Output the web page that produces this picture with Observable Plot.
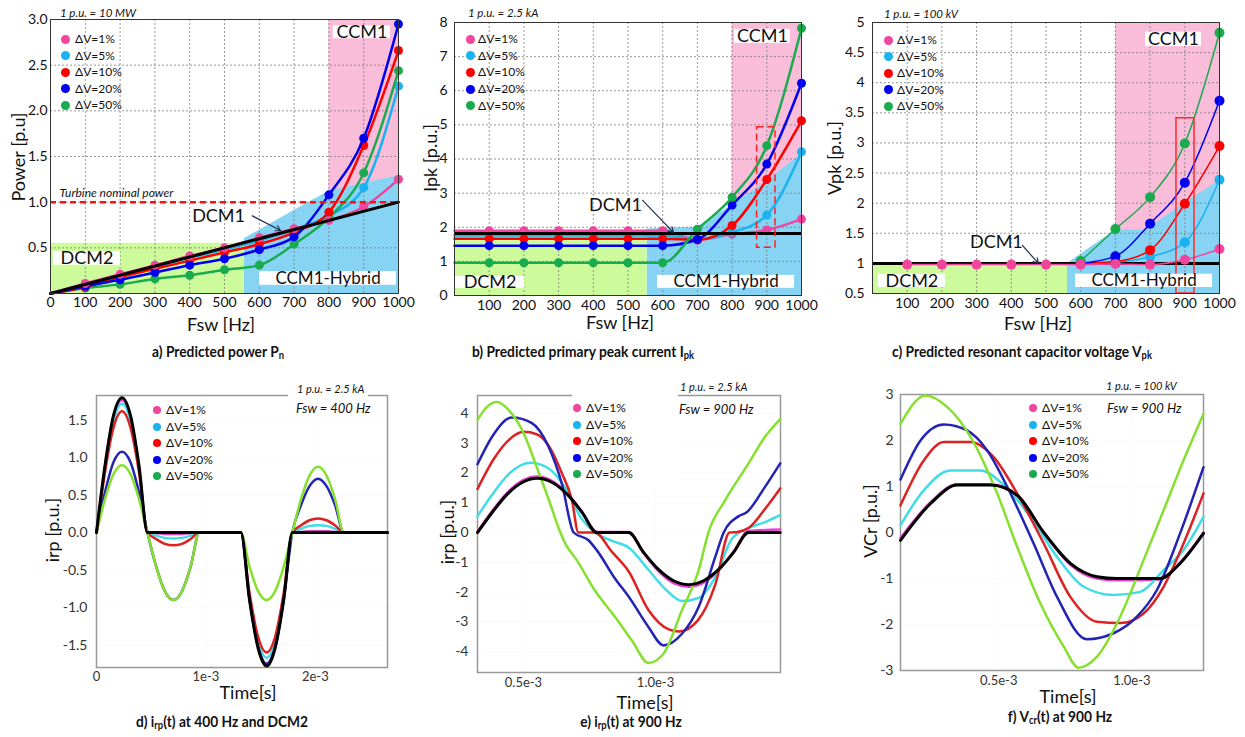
<!DOCTYPE html>
<html><head><meta charset="utf-8">
<script src="https://cdn.jsdelivr.net/npm/d3@7"></script>
<script src="https://cdn.jsdelivr.net/npm/@observablehq/plot@0.6"></script>
<style>
body{margin:0;background:#fff;font-family:Lato,"Open Sans",sans-serif;}
#root{position:relative;width:1245px;height:737px;overflow:hidden;background:#fff;}
.t{position:absolute;white-space:nowrap;color:#111;line-height:1;}
.cx{transform:translate(-50%,-50%);}
.lc{transform:translate(0,-50%);}
.rot{transform:translate(-50%,-50%) rotate(-90deg);}
.ax{font-size:18px;}
.cap{font-weight:bold;font-size:16px;transform:translate(-50%,-50%) scaleX(0.86);}
.sb{font-size:0.68em;vertical-align:-0.12em;}
.it{font-style:italic;}
</style>
</head><body><div id="root"></div>
<script>
// ---------------- data ----------------
const fsw = [100,200,300,400,500,600,700,800,900,1000];
const dvLabels = ["ΔV=1%","ΔV=5%","ΔV=10%","ΔV=20%","ΔV=50%"];
const dotColors = ["#f0459d","#1ab2ef","#ff0000","#0000f0","#1aab4e"];
const waveColors = ["#e840d4","#40dde6","#dc2222","#2424b4","#86e02e"];

// a) predicted power [p.u.]
const powerDv1  = [0.11,0.21,0.31,0.41,0.50,0.61,0.71,0.80,0.95,1.25];
const powerDv5  = [0.10,0.20,0.29,0.39,0.48,0.58,0.70,0.85,1.16,2.27];
const powerDv10 = [0.07,0.18,0.27,0.36,0.45,0.54,0.67,0.89,1.62,2.66];
const powerDv20 = [0.08,0.15,0.23,0.31,0.38,0.48,0.62,1.08,1.70,2.95];
const powerDv50 = [0.06,0.10,0.16,0.20,0.26,0.31,0.54,0.83,1.32,2.44];
const powerDcm1 = [[0,0],[1000,1.0]];
const turbineNominal = 1.0;
const ccm1A = [800,1000], dcm2A = [0,557,0.55];
const hybridTopA = [[557,0.6],[700,0.91],[800,1.12],[1000,1.29]];

// b) primary peak current [p.u.]
const ipkDv1  = [1.90,1.90,1.90,1.90,1.90,1.90,1.63,1.80,1.92,2.24];
const ipkDv5  = [1.76,1.76,1.76,1.76,1.76,1.76,1.65,1.85,2.36,4.21];
const ipkDv10 = [1.66,1.66,1.66,1.66,1.66,1.66,1.63,2.05,3.40,5.12];
const ipkDv20 = [1.46,1.46,1.46,1.46,1.46,1.46,1.64,2.65,3.85,6.22];
const ipkDv50 = [0.96,0.96,0.96,0.96,0.96,0.96,1.94,2.88,4.39,7.83];
const ipkDcm1 = 1.82;
const ccm1B = [800,1000], dcm2B = [0,555,1.8];
const hybridTopB = [[555,1.95],[700,2.0],[800,2.65],[900,3.35],[1000,4.15]];
const boxB = [872,925,1.4,4.93];

// c) resonant capacitor voltage [p.u.]
const vpkDv1  = [0.98,0.98,0.98,0.98,0.98,0.98,0.99,0.98,1.06,1.24];
const fswHi = [600,700,800,900,1000];
const vpkDv5  = [1.00,1.02,1.11,1.35,2.39];
const vpkDv10 = [1.00,1.03,1.22,1.99,2.95];
const vpkDv20 = [1.00,1.12,1.66,2.34,3.70];
const vpkDv50 = [1.04,1.57,2.10,2.99,4.83];
const vpkDcm1 = 1.0;
const ccm1C = [700,1000], dcm2C = [0,562,1.0];
const hybridTopC = [[562,1.0],[700,1.55],[785,1.55],[1000,2.38]];
const boxC = [876,928,0.5,3.41];

// region labels [text, x1, x2, y1, y2]
const labelsA = [["CCM1",813,977,2.79,2.93],["DCM2",9,201,0.31,0.46],["CCM1-Hybrid",601,994,0.09,0.24]];
const labelsB = [["CCM1",807,968,7.39,7.80],["DCM2",3,202,0.21,0.56],["CCM1-Hybrid",585,980,0.21,0.59]];
const labelsC = [["CCM1",787,948,4.60,4.84],["DCM2",17,210,0.60,0.82],["CCM1-Hybrid",585,980,0.60,0.82]];
// DCM1 annotation [textX, textY, arrowX1, arrowY1, arrowX2, arrowY2]
const dcm1NoteA = [483,0.85,580,0.85,661,0.69];
const dcm1NoteB = [464,2.64,542,2.79,631,1.85];
const dcm1NoteC = [357,1.35,432,1.30,478,1.0];

// d) irp(t) at 400 Hz (time in ms)
const dTime = [0,0.078,0.155,0.233,0.311,0.388,0.466,0.545,0.624,0.703,0.782,0.861,0.94,1.32,1.398,1.477,1.555,1.633,1.712,1.79,1.868,1.947,2.025,2.103,2.182,2.26,2.66];
const dBlack = [0,0.9,1.56,1.8,1.56,0.9,0, 0,0,0,0,0,0, 0,-0.89,-1.54,-1.78,-1.54,-0.89,0, 0,0,0,0,0,0, 0];
const dDv1  = [0,0.88,1.53,1.77,1.53,0.88,0, -0.01,-0.017,-0.02,-0.017,-0.01,0, 0,-0.88,-1.52,-1.75,-1.52,-0.88,0, 0.01,0.017,0.02,0.017,0.01,0, 0];
const dDv5  = [0,0.86,1.49,1.72,1.49,0.86,0, -0.04,-0.07,-0.08,-0.07,-0.04,0, 0,-0.84,-1.45,-1.67,-1.45,-0.84,0, 0.05,0.09,0.1,0.09,0.05,0, 0];
const dDv10 = [0,0.81,1.4,1.62,1.4,0.81,0, -0.085,-0.15,-0.17,-0.15,-0.085,0, 0,-0.8,-1.39,-1.6,-1.39,-0.8,0, 0.095,0.165,0.19,0.165,0.095,0, 0];
const dDv20 = [0,0.54,0.94,1.08,0.94,0.54,0, -0.45,-0.78,-0.9,-0.78,-0.45,0, 0,-0.88,-1.52,-1.75,-1.52,-0.88,0, 0.36,0.62,0.72,0.62,0.36,0, 0];
const dDv50 = [0,0.45,0.78,0.9,0.78,0.45,0, -0.45,-0.78,-0.9,-0.78,-0.45,0, 0,-0.45,-0.78,-0.9,-0.78,-0.45,0, 0.44,0.76,0.88,0.76,0.44,0, 0];

// e) irp(t) at 900 Hz [ms, p.u.]
const eBlack = [[0.326,0],[0.383,0.69],[0.439,1.29],[0.495,1.68],[0.552,1.82],[0.609,1.68],[0.665,1.29],[0.721,0.69],[0.778,0],[0.898,0],[0.955,-0.67],[1.011,-1.24],[1.068,-1.62],[1.125,-1.75],[1.182,-1.62],[1.239,-1.24],[1.295,-0.67],[1.352,0],[1.472,0]];
const eDv1 = [[0.326,0.03],[0.383,0.74],[0.439,1.34],[0.495,1.74],[0.552,1.88],[0.609,1.73],[0.665,1.32],[0.721,0.7],[0.778,0.02],[0.898,0.02],[0.955,-0.7],[1.011,-1.3],[1.068,-1.7],[1.125,-1.82],[1.182,-1.68],[1.239,-1.27],[1.295,-0.65],[1.352,0.05],[1.472,0.1]];
const eDv5 = [[0.326,0.55],[0.38,1.25],[0.443,1.95],[0.525,2.34],[0.595,2.15],[0.658,1.5],[0.721,0.45],[0.771,0.0],[0.835,-0.28],[0.898,-0.5],[0.973,-1.25],[1.037,-1.9],[1.1,-2.3],[1.163,-2.2],[1.226,-1.5],[1.29,-0.2],[1.352,0.15],[1.415,0.35],[1.472,0.58]];
const eDv10 = [[0.326,1.46],[0.39,2.5],[0.45,3.15],[0.5,3.38],[0.55,3.3],[0.6,2.85],[0.645,2.0],[0.683,1.1],[0.708,0],[0.77,0],[0.835,-0.65],[0.898,-1.3],[0.973,-2.6],[1.05,-3.25],[1.09,-3.32],[1.16,-2.95],[1.226,-1.75],[1.28,0],[1.31,0.02],[1.352,0.15],[1.415,0.8],[1.472,1.48]];
const eDv20 = [[0.326,2.29],[0.38,3.2],[0.456,3.86],[0.532,3.67],[0.595,2.88],[0.645,1.65],[0.69,0],[0.746,-0.26],[0.778,-0.6],[0.847,-1.55],[0.898,-2.15],[0.973,-3.17],[1.03,-3.79],[1.1,-3.4],[1.163,-2.5],[1.226,-0.82],[1.258,0],[1.315,0.55],[1.345,0.68],[1.415,1.54],[1.472,2.32]];
const eDv50 = [[0.326,3.78],[0.36,4.2],[0.399,4.38],[0.45,4.05],[0.5,3.35],[0.55,2.2],[0.6,1.0],[0.633,0.15],[0.66,-0.4],[0.7,-0.9],[0.77,-1.94],[0.847,-2.84],[0.91,-3.62],[0.973,-4.38],[1.03,-4.07],[1.1,-2.61],[1.163,-1.27],[1.2,0],[1.264,1.09],[1.352,2.32],[1.415,3.22],[1.472,3.81]];

// f) Vcr(t) at 900 Hz [ms, p.u.]
const fBlack = [[0.131,-0.17],[0.244,0.63],[0.344,1.03],[0.469,1.03],[0.569,0.81],[0.669,0],[0.769,-0.67],[0.869,-0.96],[0.944,-1.0],[1.106,-1.0],[1.181,-0.67],[1.269,-0.02]];
const fDv1 = [[0.131,-0.12],[0.244,0.66],[0.344,1.05],[0.469,1.05],[0.569,0.82],[0.669,0],[0.769,-0.7],[0.869,-1.0],[0.944,-1.04],[1.106,-1.02],[1.181,-0.66],[1.269,0]];
const fDv5 = [[0.131,0.16],[0.219,0.92],[0.319,1.35],[0.431,1.35],[0.519,1.03],[0.619,0.34],[0.719,-0.53],[0.819,-1.18],[0.931,-1.36],[1.031,-1.29],[1.119,-0.82],[1.194,-0.38],[1.269,0.34]];
const fDv10 = [[0.131,0.59],[0.219,1.57],[0.294,1.97],[0.394,1.97],[0.481,1.64],[0.569,0.85],[0.669,-0.24],[0.769,-1.4],[0.869,-1.94],[0.956,-1.97],[1.044,-1.76],[1.119,-1.18],[1.194,-0.24],[1.269,0.85]];
const fDv20 = [[0.131,1.15],[0.206,2.0],[0.294,2.35],[0.381,2.22],[0.456,1.79],[0.544,0.85],[0.631,-0.24],[0.719,-1.4],[0.831,-2.32],[0.931,-2.19],[1.019,-1.83],[1.094,-1.25],[1.181,-0.02],[1.269,1.42]];
const fDv50 = [[0.131,2.36],[0.225,2.98],[0.306,2.73],[0.394,2.08],[0.494,0.85],[0.569,-0.31],[0.656,-1.54],[0.744,-2.48],[0.8,-2.94],[0.869,-2.7],[0.956,-1.83],[1.044,-0.6],[1.119,0.48],[1.194,1.57],[1.269,2.58]];

// ---------------- drawing ----------------
const PINK = "#f9bcd9", BLUE = "#86d3f4", GREEN = "#cdfb9b";
const root = document.getElementById("root");
function place(svg, left, top){ svg.style.position="absolute"; svg.style.left=left+"px"; svg.style.top=top+"px"; root.appendChild(svg); }
function txt(html, x, y, cls, style){ const d=document.createElement("div"); d.className="t "+(cls||""); d.innerHTML=html; d.style.left=x+"px"; d.style.top=y+"px"; if(style) Object.assign(d.style, style); root.appendChild(d); return d; }
function legend(cx, y0, step, r, lx, fs){
  dvLabels.forEach((lab,i)=>{
    const y=y0+i*step;
    const c=document.createElement("div");
    c.style.cssText=`position:absolute;left:${cx-r}px;top:${y-r}px;width:${2*r}px;height:${2*r}px;border-radius:50%;background:${dotColors[i]}`;
    root.appendChild(c);
    txt(lab, lx, y, "lc", {fontSize:fs+"px"});
  });
}
const baseStyle = {fontFamily:"Lato, sans-serif", fontSize:"14px", color:"#111", background:"transparent", overflow:"visible"};
const gridStyle = {stroke:"#777", strokeOpacity:0.75, strokeDasharray:"2,2"};

function topPanel(c){
  const marks = [
    Plot.rect([c.ccm1], {x1:d=>d[0], x2:d=>d[1], y1:()=>c.ydom[0], y2:()=>c.ydom[1], fill:PINK}),
    Plot.areaY(c.hybrid, {x:d=>d[0], y1:()=>c.ydom[0], y2:d=>d[1], fill:BLUE}),
    Plot.rect([c.dcm2], {x1:d=>d[0], x2:d=>d[1], y1:()=>c.ydom[0], y2:d=>d[2], fill:GREEN}),
    Plot.gridX(fsw.slice(0,9), gridStyle),
    Plot.gridY(c.yticks.filter(v=>v>c.ydom[0] && v<c.ydom[1]), gridStyle),
    Plot.axisX(c.xticks, {tickSize:0, tickPadding:c.xpad, fontSize:14, label:null, tickFormat:d=>String(d)}),
    Plot.axisY(c.yticks, {tickSize:0, tickPadding:c.ypad, fontSize:14, label:null, tickFormat:c.yfmt}),
    ...c.extraBelow,
  ];
  c.order.forEach(i=>{
    const s=c.series[i];
    marks.push(Plot.line(s.line, {x:d=>d[0], y:d=>d[1], stroke:dotColors[i], strokeWidth:c.lw, curve:"monotone-x"}));
    marks.push(Plot.dot(s.dots, {x:d=>d[0], y:d=>d[1], fill:dotColors[i], r:c.r}));
  });
  marks.push(...c.extraAbove);
  marks.push(Plot.rect(c.labels, {x1:d=>d[1], x2:d=>d[2], y1:d=>d[3], y2:d=>d[4], fill:"white"}));
  marks.push(Plot.text(c.labels, {x:d=>(d[1]+d[2])/2, y:d=>(d[3]+d[4])/2, text:d=>d[0], fontSize:d=>d[0]==="CCM1-Hybrid"?17:18, fill:"#111"}));
  const n=c.note;
  marks.push(Plot.text([n], {x:d=>d[0], y:d=>d[1], text:()=>"DCM1", fontSize:18, fill:"#111"}));
  marks.push(Plot.arrow([n], {x1:d=>d[2], y1:d=>d[3], x2:d=>d[4], y2:d=>d[5], stroke:"#1f2d55", strokeWidth:1.2, headLength:7}));
  marks.push(Plot.frame({stroke:"#333"}));
  return Plot.plot({
    width:415, height:340, marginLeft:c.ml, marginRight:c.mr, marginTop:c.mt, marginBottom:340-c.fb,
    x:{domain:[0,1000], axis:null}, y:{domain:c.ydom, axis:null},
    style:baseStyle, marks
  });
}
const mk = (vals, xs) => (xs||fsw).map((f,j)=>[f, vals[j]]);

// panel a
{
  const series=[powerDv1,powerDv5,powerDv10,powerDv20,powerDv50].map(v=>({dots:mk(v), line:[[0,0],...mk(v)]}));
  place(topPanel({
    ml:50, mr:17, mt:19, fb:293, ydom:[0,3], yticks:[0.5,1.0,1.5,2.0,2.5,3.0], yfmt:d=>d.toFixed(1), xticks:[0,...fsw], xpad:4, ypad:3,
    ccm1:ccm1A, hybrid:hybridTopA, dcm2:dcm2A, series, order:[1,4,2,3,0], lw:2.5, r:4.5,
    extraBelow:[], labels:labelsA, note:dcm1NoteA,
    extraAbove:[
      Plot.ruleY([turbineNominal], {stroke:"#ff1010", strokeWidth:2.5, strokeDasharray:"6,4"}),
      Plot.line(powerDcm1, {x:d=>d[0], y:d=>d[1], stroke:"#000", strokeWidth:3}),
      Plot.text(["Turbine nominal power"], {x:()=>26, y:()=>1.10, text:d=>d, textAnchor:"start", fontSize:12, fontStyle:"italic", fill:"#111"})
    ]
  }), 0, 0);
}
// panel b
{
  const series=[ipkDv1,ipkDv5,ipkDv10,ipkDv20,ipkDv50].map(v=>({dots:mk(v), line:[[0,v[0]],...mk(v)]}));
  place(topPanel({
    ml:39, mr:29, mt:22, fb:295, ydom:[0,8], yticks:[0,1,2,3,4,5,6,7,8], yfmt:d=>String(d), xticks:fsw, xpad:5, ypad:7,
    ccm1:ccm1B, hybrid:hybridTopB, dcm2:dcm2B, series, order:[0,1,2,3,4], lw:2.5, r:4.5,
    extraBelow:[], labels:labelsB, note:dcm1NoteB,
    extraAbove:[
      Plot.ruleY([ipkDcm1], {stroke:"#000", strokeWidth:3}),
      Plot.rect([boxB], {x1:d=>d[0], x2:d=>d[1], y1:d=>d[2], y2:d=>d[3], fill:"none", stroke:"#ff2020", strokeWidth:1.5, strokeDasharray:"7,4"})
    ]
  }), 415, 0);
}
// panel c
{
  const series=[
    {dots:mk(vpkDv1), line:mk(vpkDv1)},
    ...[vpkDv5,vpkDv10,vpkDv20,vpkDv50].map(v=>({dots:mk(v,fswHi), line:mk(v,fswHi)}))
  ];
  place(topPanel({
    ml:42, mr:26, mt:22, fb:293, ydom:[0.5,5], yticks:[0.5,1,1.5,2,2.5,3,3.5,4,4.5,5], yfmt:d=>String(d), xticks:fsw, xpad:5, ypad:8,
    ccm1:ccm1C, hybrid:hybridTopC, dcm2:dcm2C, series, order:[1,2,3,4,0], lw:1.5, r:5,
    extraBelow:[Plot.ruleY([vpkDcm1], {stroke:"#000", strokeWidth:3})], labels:labelsC, note:dcm1NoteC,
    extraAbove:[
      Plot.rect([boxC], {x1:d=>d[0], x2:d=>d[1], y1:d=>d[2], y2:d=>d[3], fill:"none", stroke:"#ff2a2a", strokeWidth:1.5})
    ]
  }), 830, 0);
}

function wavePanel(c){
  const marks=[
    Plot.gridX(c.xticks, {stroke:"#aaa", strokeDasharray:"2,2"}),
    Plot.gridY(c.yticks, {stroke:"#aaa", strokeDasharray:"2,2"}),
    Plot.frame({stroke:"#999", strokeWidth:1.5}),
    Plot.axisX(c.xticks, {tickSize:0, tickPadding:c.xpad, fontSize:13, fill:"#333", label:null, tickFormat:c.xfmt}),
    Plot.axisY(c.yticks, {tickSize:0, tickPadding:c.ypad, fontSize:14, fill:"#333", label:null, tickFormat:c.yfmt})
  ];
  c.order.forEach(i=>{
    marks.push(Plot.line(c.series[i], {x:d=>d[0], y:d=>d[1], stroke:waveColors[i], strokeWidth:2.5, curve:"monotone-x"}));
  });
  marks.push(Plot.line(c.black, {x:d=>d[0], y:d=>d[1], stroke:"#000", strokeWidth:3, curve:"monotone-x"}));
  return Plot.plot({
    width:415, height:340, marginLeft:c.ml, marginRight:c.mr, marginTop:c.mt, marginBottom:c.mb,
    x:{domain:c.xdom, axis:null}, y:{domain:c.ydom, axis:null},
    style:Object.assign({}, baseStyle, {color:"#333"}), marks
  });
}
const zipT = v => dTime.map((t,i)=>[t, v[i]]);
place(wavePanel({
  ml:96, mr:28, mt:25, mb:43, xdom:[0,2.66], ydom:[-1.8,1.83],
  xticks:[0,1,2], xfmt:d=>d===0?"0":d+"e-3", xpad:4,
  yticks:[-1.5,-1,-0.5,0,0.5,1,1.5], yfmt:d=>d.toFixed(1), ypad:9,
  series:[dDv1,dDv5,dDv10,dDv20,dDv50].map(zipT), black:zipT(dBlack), order:[0,1,2,3,4]
}), 0, 370);
place(wavePanel({
  ml:62, mr:50, mt:25, mb:38, xdom:[0.326,1.473], ydom:[-4.7,4.6],
  xticks:[0.5,1.0], xfmt:d=>d.toFixed(1)+"e-3", xpad:5,
  yticks:[-4,-3,-2,-1,0,1,2,3,4], yfmt:d=>String(d), ypad:9,
  series:[eDv1,eDv5,eDv10,eDv20,eDv50], black:eBlack, order:[0,1,2,3,4]
}), 415, 370);
place(wavePanel({
  ml:70, mr:42, mt:24, mb:40, xdom:[0.131,1.269], ydom:[-3,3],
  xticks:[0.5,1.0], xfmt:d=>d.toFixed(1)+"e-3", xpad:5,
  yticks:[-3,-2,-1,0,1,2,3], yfmt:d=>String(d), ypad:7,
  series:[fDv1,fDv5,fDv10,fDv20,fDv50], black:fBlack, order:[0,1,2,3,4]
}), 830, 370);

// ---------------- overlay text ----------------
txt("1 p.u. = 10 MW", 60, 13, "lc it", {fontSize:"11.5px"});
txt("1 p.u. = 2.5 kA", 468, 13, "lc it", {fontSize:"11.5px"});
txt("1 p.u. = 100 kV", 884, 14, "lc it", {fontSize:"11.5px"});
legend(65, 39, 16.5, 4.5, 75, 12);
legend(470, 39, 16.7, 4.5, 478, 12);
legend(888, 40, 16.5, 4.5, 897, 12);
txt("Power [p.u]", 18, 157, "rot ax");
txt("Ipk [p.u.]", 430, 158, "rot ax");
txt("Vpk [p.u.]", 834, 158, "rot ax");
txt("Fsw [Hz]", 221, 324, "cx ax");
txt("Fsw [Hz]", 620, 322, "cx ax");
txt("Fsw [Hz]", 1038, 323, "cx ax");
txt('a) Predicted power P<span class="sb">n</span>', 218, 352, "cap");
txt('b) Predicted primary peak current I<span class="sb">pk</span>', 583, 352, "cap");
txt('c) Predicted resonant capacitor voltage V<span class="sb">pk</span>', 1022, 352, "cap");
txt("", 288, 392, "", {width:"80px", height:"28px", background:"#fff"});
txt("1 p.u. = 2.5 kA", 297, 388, "lc it", {fontSize:"11px"});
txt("Fsw = 400 Hz", 296, 408, "lc it", {fontSize:"13px"});
legend(157, 410, 16.5, 4, 166, 12);
txt("", 572, 390, "", {width:"106px", height:"95px", background:"#fff"});
txt("1 p.u. = 2.5 kA", 680, 386, "lc it", {fontSize:"11px"});
txt("Fsw = 900 Hz", 679, 409, "lc it", {fontSize:"13px"});
legend(577, 408, 16.5, 4, 586, 12);
txt("1 p.u. = 100 kV", 1106, 385, "lc it", {fontSize:"11px"});
txt("Fsw = 900 Hz", 1107, 408, "lc it", {fontSize:"13px"});
legend(1033, 408, 16.5, 4, 1042, 12);
txt("irp [p.u.]", 52, 530, "rot ax");
txt("irp [p.u.]", 447, 532, "rot ax");
txt("VCr [p.u.]", 870, 521, "rot ax");
txt("Time[s]", 248, 692, "cx ax");
txt("Time[s]", 645, 702, "cx ax");
txt("Time[s]", 1068, 696, "cx ax");
txt('d) i<span class="sb">rp</span>(t) at 400 Hz and DCM2', 222, 722, "cap");
txt('e) i<span class="sb">rp</span>(t) at 900 Hz', 631, 722, "cap");
txt('f) V<span class="sb">cr</span>(t) at 900 Hz', 1060, 717, "cap");
</script></body></html>
